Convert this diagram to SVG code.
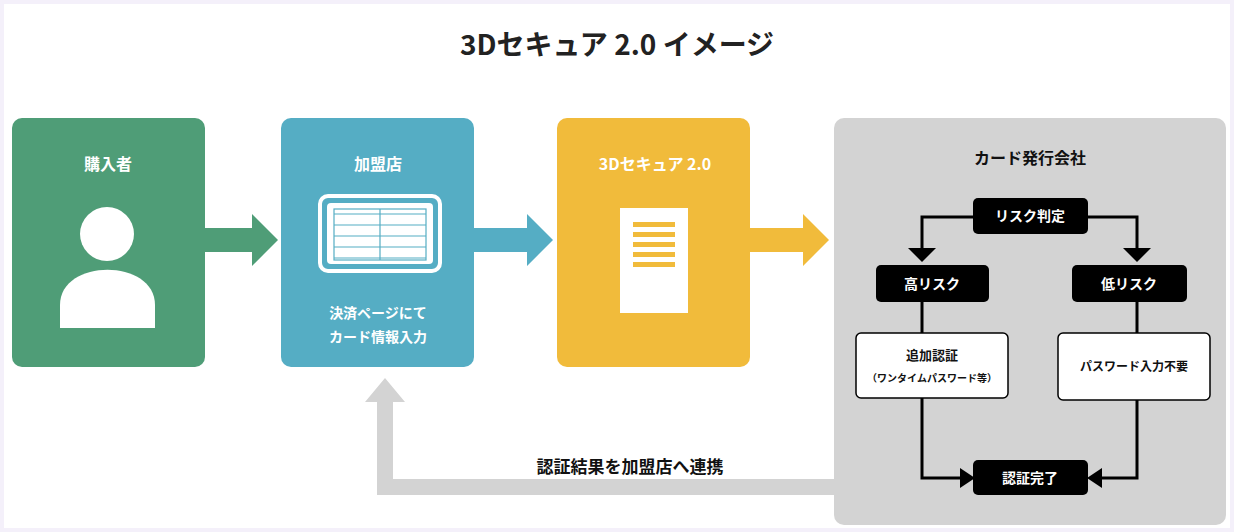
<svg xmlns="http://www.w3.org/2000/svg" width="1234" height="532" viewBox="0 0 1234 532">
<style>
text{font-family:"Noto Sans CJK JP","Noto Sans",sans-serif;font-weight:bold;text-anchor:middle}
.w{fill:#fff;font-size:16px}
.bk{fill:#000;}
.bt{fill:#fff;font-size:14px}
.ln{fill:none;stroke:#000;stroke-width:3}
</style>
<rect width="1234" height="532" fill="#f4f0fa"/>
<rect x="4" y="4" width="1226" height="524" fill="#fff"/>
<text x="617" y="55" font-size="28" fill="#222">3Dセキュア 2.0 イメージ</text>
<g id="buyer">
<rect x="12" y="118" width="193" height="249" rx="10" fill="#4f9d77"/>
<text class="w" x="108" y="170">購入者</text>
<circle cx="107" cy="234" r="27" fill="#fff"/>
<path d="M60,328V305C60,258 155,258 155,305V328Z" fill="#fff"/>
</g>
<g id="merchant">
<rect x="281" y="118" width="193" height="249" rx="10" fill="#55adc4"/>
<text class="w" x="378" y="170">加盟店</text>
<rect x="320" y="196" width="120" height="75" rx="8" fill="none" stroke="#fff" stroke-width="4"/>
<rect x="327" y="203" width="106" height="61" rx="4" fill="#fff"/>
<g stroke="#55adc4" stroke-width="1.2"><path d="M334,214H426M334,225H426M334,236H426M334,247H426M334,258H426M380,209V260"/><rect x="334" y="209" width="92" height="51" fill="none"/></g>
<text class="w" x="378" y="318" style="font-size:14px">決済ページにて</text>
<text class="w" x="378" y="342" style="font-size:14px">カード情報入力</text>
</g>
<g id="secure">
<rect x="557" y="118" width="193" height="249" rx="10" fill="#f1bb3b"/>
<text class="w" x="655" y="170">3Dセキュア 2.0</text>
<rect x="620" y="208" width="68" height="105" fill="#fff"/>
<g fill="#f1bb3b"><rect x="633" y="222" width="42" height="5"/><rect x="633" y="232" width="42" height="5"/><rect x="633" y="242" width="42" height="5"/><rect x="633" y="252" width="42" height="5"/><rect x="633" y="262" width="42" height="5"/></g>
</g>
<g id="issuer">
<rect x="834" y="118" width="392" height="407" rx="10" fill="#d3d3d3"/>
<text x="1030" y="164" font-size="16" fill="#111">カード発行会社</text>
</g>
<g id="connectors">
<path d="M205,228H252V214L278,240L252,266V252H205Z" fill="#4f9d77"/>
<path d="M474,228H527V214L553,240L527,266V252H474Z" fill="#55adc4"/>
<path d="M750,228H803V214L829,240L803,266V252H750Z" fill="#f1bb3b"/>
<path d="M834,479H393V402H405L385,378L365,402H377V495H834Z" fill="#d3d3d3"/>
<text x="630" y="473" font-size="17" fill="#111">認証結果を加盟店へ連携</text>
<path class="ln" d="M973,217H922V250"/>
<path class="ln" d="M1088,217H1137V250"/>
<path d="M908,248H936L922,262Z M1123,248H1151L1137,262Z" fill="#000"/>
<path class="ln" d="M922,302V478H962"/>
<path d="M960,468L975,478L960,488Z" fill="#000"/>
<path class="ln" d="M1137,302V478H1100"/>
<path d="M1102,468L1087,478L1102,488Z" fill="#000"/>
</g>
<g id="risk"><rect x="973" y="198" width="115" height="36" rx="5" class="bk"/><text class="bt" x="1030" y="221">リスク判定</text></g>
<g id="high"><rect x="876" y="265" width="113" height="37" rx="5" class="bk"/><text class="bt" x="932" y="289">高リスク</text></g>
<g id="low"><rect x="1072" y="265" width="115" height="37" rx="5" class="bk"/><text class="bt" x="1129" y="289">低リスク</text></g>
<g id="extra"><rect x="856" y="333" width="152" height="65" rx="5" fill="#fff" stroke="#000" stroke-width="1.5"/><text x="932" y="360" font-size="13" fill="#111">追加認証</text><text x="932" y="382" font-size="10" fill="#111">（ワンタイムパスワード等）</text></g>
<g id="nopw"><rect x="1058" y="333" width="152" height="67" rx="5" fill="#fff" stroke="#000" stroke-width="1.5"/><text x="1134" y="371" font-size="12" fill="#111">パスワード入力不要</text></g>
<g id="done"><rect x="973" y="460" width="115" height="35" rx="5" class="bk"/><text class="bt" x="1030" y="483">認証完了</text></g>
</svg>
